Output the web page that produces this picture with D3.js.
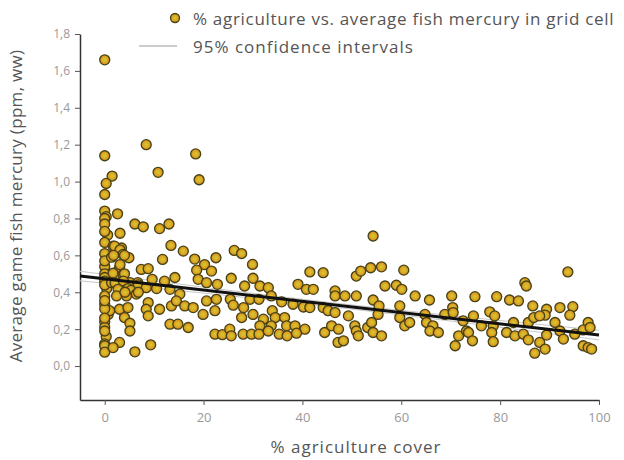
<!DOCTYPE html>
<html>
<head>
<meta charset="utf-8">
<script src="https://cdn.jsdelivr.net/npm/d3@7"></script>
<style>
  body { margin: 0; background: #fff; }
  svg { display: block; font-family: "Open Sans", sans-serif; }
</style>
</head>
<body>
<div id="chart"></div>
<script>
// % agriculture cover in grid cell
const agriCover = [
  0, 8.4, 0, 18.4, 10.8, 1.5, 0.3, 19.1, 0,
  0, 2.6, 0.3, 0, 0, 0.6, 0, 0, 0, 0, 0, 0, 0.4, 0, 0, 0.7, 0, 0, 0.3, 0, 0, 0, 1, 0, 0, 0, 0, 0, 0, 0,
  3.1, 6.1, 7.8, 11.1, 13, 1.7, 3.4, 2, 3.1, 1.4, 3.7, 4.9, 11.7, 1.8, 4,
  3.0, 3.1, 7.4, 8.8, 1.7, 3.7, 4, 9.6, 12.1, 14.2, 1.4, 3.0, 5.1, 6.7, 2.1, 3.8, 6.8,
  2.7, 4.7, 8.4, 10.5, 13.2, 5.3, 15.2, 2.4, 4.4, 6.4, 4.1, 6.8,
  8.8, 11.1, 13.5, 14.5, 16.2, 17.9, 3.0, 4.7, 8.4, 4.0, 8.8, 5.1, 13.2, 14.8, 16.9,
  5.1, 3.0, 1.7, 6.1, 9.3,
  13.4, 15.9, 18.2, 20.2, 22.5, 18.6, 21.6, 18.9, 20.6, 22.8, 20.6, 22.6, 19.9, 22.3, 22.3, 23.8,
  26.2, 27.7, 29.9, 25.6, 30, 28.3, 31.4, 33.1, 39.1, 41.5, 44.2, 40.8, 42.2, 46.6,
  25.4, 29.4, 31.2, 33.7, 35.8, 38.1, 40.2, 41.5, 44.2, 45.2, 46.6, 26, 28.1,
  27.7, 30, 32.1, 33.9, 34.5, 36.4, 31.4, 33.7, 36.8, 38.5, 40.5, 25.3,
  25.6, 28, 29.7, 31.2, 33.1, 35.3, 36.9, 38.8, 44.5, 45.9, 47.2,
  54.3, 50.9, 51.8, 53.8, 56, 60.5, 56.7, 59, 60.1, 46.6, 48.6, 50.9, 62.8, 65.7, 70.2,
  54.3, 55.5, 59.7, 49.3, 55.3, 59.7, 64.8, 68.8, 70.4, 70.5, 72.5, 47.3, 50.6, 50.9,
  53.2, 54, 54.3, 56, 60.7, 61.7, 65.1, 66.4, 65.8, 67.5, 51.3, 48.3, 71.6, 70.9, 73.2,
  93.7, 85, 85.3, 74.9, 79.3, 81.9, 83.7, 86.6, 89.4, 92.1, 94.7, 77.9, 78.9, 74.6, 89.1, 94.1,
  76.2, 78.6, 82.7, 85.7, 86.8, 88, 91.1, 97.8, 73.6, 78.3, 81.3, 83, 84.7, 85.7, 89.4,
  92.1, 92.8, 95.1, 96.8, 98.2, 74.4, 78.6, 88, 89.1, 87, 96.8, 97.8, 98.5
];
// average game fish mercury (ppm, ww)
const fishHg = [
  1.66, 1.20, 1.14, 1.15, 1.05, 1.03, 0.99, 1.01, 0.93,
  0.84, 0.825, 0.81, 0.80, 0.77, 0.71, 0.67, 0.61, 0.54, 0.50, 0.48, 0.46, 0.42, 0.38, 0.335, 0.28, 0.24, 0.21, 0.16, 0.12, 0.11, 0.075, 0.30, 0.73, 0.57, 0.44, 0.31, 0.19, 0.26, 0.355,
  0.72, 0.77, 0.755, 0.745, 0.77, 0.65, 0.64, 0.65, 0.63, 0.59, 0.605, 0.587, 0.578, 0.60, 0.6,
  0.533, 0.55, 0.524, 0.528, 0.503, 0.497, 0.5, 0.47, 0.46, 0.48, 0.452, 0.452, 0.452, 0.452, 0.45, 0.46, 0.44,
  0.416, 0.42, 0.425, 0.42, 0.416, 0.41, 0.39, 0.38, 0.38, 0.39, 0.40, 0.40,
  0.344, 0.308, 0.326, 0.353, 0.326, 0.317, 0.308, 0.317, 0.308, 0.263, 0.272, 0.232, 0.227, 0.227, 0.209,
  0.19, 0.128, 0.1, 0.077, 0.115,
  0.654, 0.623, 0.58, 0.55, 0.587, 0.52, 0.515, 0.47, 0.452, 0.443, 0.353, 0.362, 0.28, 0.3, 0.173, 0.17,
  0.627, 0.61, 0.551, 0.476, 0.476, 0.434, 0.434, 0.425, 0.443, 0.51, 0.506, 0.416, 0.416, 0.407,
  0.362, 0.362, 0.362, 0.38, 0.348, 0.335, 0.32, 0.317, 0.317, 0.3, 0.29, 0.33, 0.317,
  0.263, 0.28, 0.254, 0.3, 0.263, 0.263, 0.218, 0.218, 0.218, 0.218, 0.2, 0.2,
  0.164, 0.173, 0.173, 0.173, 0.19, 0.173, 0.164, 0.178, 0.182, 0.218, 0.128,
  0.705, 0.488, 0.515, 0.533, 0.538, 0.52, 0.434, 0.438, 0.416, 0.38, 0.38, 0.38, 0.38, 0.358, 0.38,
  0.358, 0.326, 0.326, 0.272, 0.28, 0.263, 0.28, 0.28, 0.317, 0.29, 0.245, 0.2, 0.218, 0.19,
  0.209, 0.236, 0.182, 0.164, 0.218, 0.236, 0.236, 0.218, 0.19, 0.182, 0.164, 0.137, 0.164, 0.11, 0.19,
  0.51, 0.452, 0.434, 0.376, 0.376, 0.358, 0.353, 0.326, 0.308, 0.317, 0.322, 0.294, 0.272, 0.272, 0.276, 0.276,
  0.218, 0.218, 0.236, 0.236, 0.263, 0.272, 0.236, 0.236, 0.182, 0.182, 0.182, 0.164, 0.173, 0.142, 0.168,
  0.19, 0.146, 0.173, 0.196, 0.209, 0.137, 0.132, 0.128, 0.092, 0.07, 0.11, 0.1, 0.092
];

// fitted line and its 95% confidence band
const fitX = [-5, 100];
const fitY = [0.488, 0.168];
const ciX = [-5, 47, 100];
const ciLow = [0.462, 0.318, 0.142];
const ciHigh = [0.514, 0.340, 0.194];

const xTicks = [0, 20, 40, 60, 80, 100];
const yTicks = [0, 0.2, 0.4, 0.6, 0.8, 1.0, 1.2, 1.4, 1.6, 1.8];

const legendLabels = ["% agriculture vs. average fish mercury in grid cell", "95% confidence intervals"];

const width = 624, height = 460;

const svg = d3.select("#chart").append("svg")
  .attr("width", width)
  .attr("height", height)
  .attr("viewBox", [0, 0, width, height]);

const x = d3.scaleLinear([-5, 100], [80, 599]);
const y = d3.scaleLinear([-0.184, 1.8], [400, 34]);

// point gradient
const grad = svg.append("defs").append("radialGradient").attr("id", "dot");
grad.append("stop").attr("offset", "0%").attr("stop-color", "#d2cc2e");
grad.append("stop").attr("offset", "55%").attr("stop-color", "#dcaa26");
grad.append("stop").attr("offset", "100%").attr("stop-color", "#cf881c");

// axes
svg.append("g")
  .attr("transform", `translate(0,${y.range()[0]})`)
  .call(d3.axisBottom(x).tickValues(xTicks).tickSize(5).tickSizeOuter(0).tickPadding(8))
  .call(g => g.select(".domain").attr("stroke", "#333").attr("stroke-width", 1.5))
  .call(g => g.selectAll(".tick line").attr("stroke", "#555"))
  .call(g => g.selectAll(".tick text").attr("fill", "#999").attr("font-size", 13)
    .attr("font-family", "'Open Sans', sans-serif"));

svg.append("g")
  .attr("transform", `translate(${x.range()[0]},0)`)
  .call(d3.axisLeft(y).tickValues(yTicks).tickSize(5).tickSizeOuter(0).tickPadding(5)
    .tickFormat(d => d.toFixed(1).replace(".", ",")))
  .call(g => g.select(".domain").attr("stroke", "#333").attr("stroke-width", 1.5))
  .call(g => g.selectAll(".tick line").attr("stroke", "#555"))
  .call(g => g.selectAll(".tick text").attr("fill", "#999").attr("font-size", 12)
    .attr("font-family", "'Open Sans', sans-serif"));

// axis titles
svg.append("text")
  .attr("x", 356)
  .attr("y", 446)
  .attr("text-anchor", "middle")
  .attr("dominant-baseline", "central")
  .attr("fill", "#555")
  .attr("font-size", 17)
  .attr("letter-spacing", 1)
  .text("% agriculture cover");

svg.append("text")
  .attr("transform", "translate(15,206) rotate(-90)")
  .attr("text-anchor", "middle")
  .attr("dominant-baseline", "central")
  .attr("fill", "#555")
  .attr("font-size", 17)
  .attr("letter-spacing", 0.3)
  .text("Average game fish mercury (ppm, ww)");

// confidence band lines
[ciLow, ciHigh].forEach(arr => {
  svg.append("path")
    .attr("d", d3.line().x((d, i) => x(ciX[i])).y(d => y(d)).curve(d3.curveNatural)(arr))
    .attr("fill", "none")
    .attr("stroke", "#c8c8c8")
    .attr("stroke-width", 1);
});

// points
const I = d3.range(agriCover.length);
svg.append("g")
  .attr("stroke", "#454216")
  .attr("stroke-width", 1.3)
  .selectAll("circle")
  .data(I)
  .join("circle")
  .attr("cx", i => x(agriCover[i]))
  .attr("cy", i => y(fishHg[i]))
  .attr("r", 5)
  .attr("fill", "url(#dot)");

// regression line
svg.append("path")
  .attr("d", d3.line().x((d, i) => x(fitX[i])).y(d => y(d))(fitY))
  .attr("fill", "none")
  .attr("stroke", "#111")
  .attr("stroke-width", 3);

// legend
const legend = svg.append("g").attr("font-size", 17).attr("fill", "#555");
legend.append("circle")
  .attr("cx", 175).attr("cy", 18).attr("r", 4.5)
  .attr("fill", "url(#dot)").attr("stroke", "#454216").attr("stroke-width", 1.3);
legend.append("line")
  .attr("x1", 139).attr("x2", 177).attr("y1", 46).attr("y2", 46)
  .attr("stroke", "#bbb").attr("stroke-width", 1.5);
legend.selectAll("text")
  .data(legendLabels)
  .join("text")
  .attr("x", 193)
  .attr("y", (d, i) => 18 + i * 28)
  .attr("dominant-baseline", "central")
  .attr("letter-spacing", (d, i) => i === 0 ? 0.7 : 1)
  .text(d => d);
</script>
</body>
</html>
